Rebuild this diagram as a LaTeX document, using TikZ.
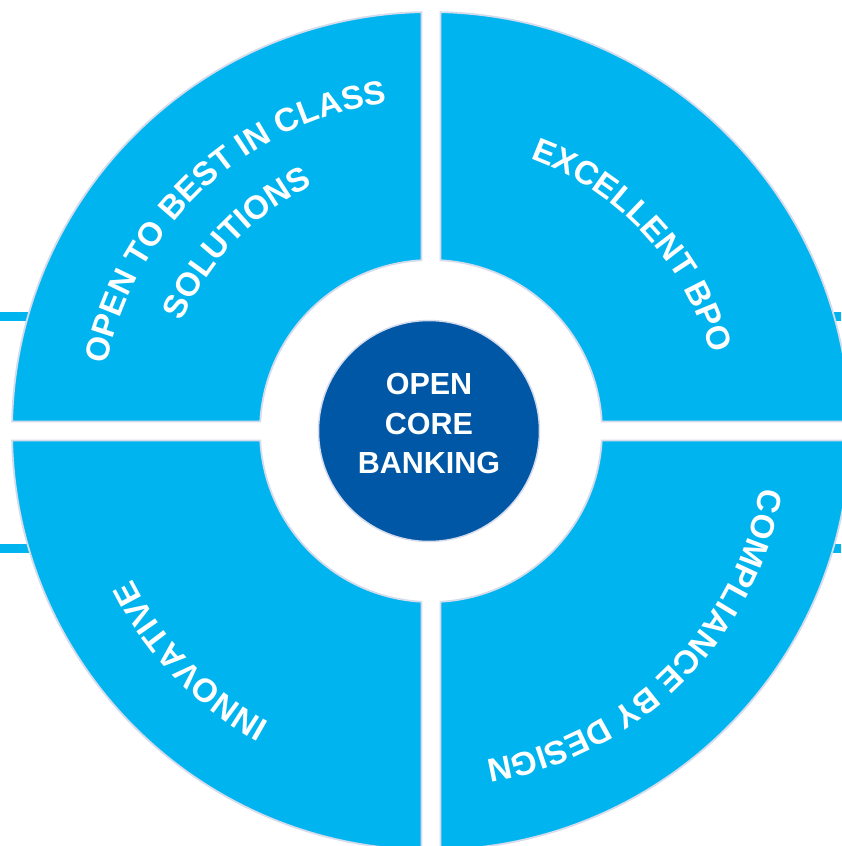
\documentclass[tikz,border=0pt]{standalone}
\usepackage{fontspec}
\setmainfont{Liberation Sans}
\usetikzlibrary{decorations.text}
\definecolor{quadcyan}{RGB}{0,181,239}
\definecolor{coreblue}{RGB}{0,87,165}
\definecolor{edgelilac}{RGB}{212,219,236}
\begin{document}
\begin{tikzpicture}[x=1pt,y=1pt,
  quad/.style={fill=quadcyan, draw=edgelilac, line width=1.8pt},
  sideline/.style={draw=quadcyan, line width=9pt},
  arclabel/.style={decorate, decoration={text along path, text align=center, text color=white,
     text={|\fontsize{33}{33}\selectfont\bfseries|#1}}},
  corelabel/.style={text=white, font=\fontsize{30.5}{30.5}\selectfont\bfseries, inner sep=0pt, anchor=base}
]
\useasboundingbox (-431,-415) rectangle (410,431);
% side lines (behind the disc)
\coordinate (lt) at (-431,114);  \coordinate (ltend) at (-390,114);
\coordinate (lb) at (-431,-117); \coordinate (lbend) at (-390,-117);
\coordinate (rt) at (410,114);   \coordinate (rtend) at (390,114);
\coordinate (rb) at (410,-117);  \coordinate (rbend) at (390,-117);
\draw[sideline] (lt) -- (ltend);
\draw[sideline] (lb) -- (lbend);
\draw[sideline] (rt) -- (rtend);
\draw[sideline] (rb) -- (rbend);
% quadrants
\path[quad] (88.701:419) arc[start angle=88.701, end angle=1.299, radius=419]
   -- (3.185:171) arc[start angle=3.185, end angle=86.815, radius=171] -- cycle;
\path[quad] (91.299:419) arc[start angle=91.299, end angle=178.701, radius=419]
   -- (176.815:171) arc[start angle=176.815, end angle=93.185, radius=171] -- cycle;
\path[quad] (181.299:419) arc[start angle=181.299, end angle=268.701, radius=419]
   -- (266.815:171) arc[start angle=266.815, end angle=183.185, radius=171] -- cycle;
\path[quad] (271.299:419) arc[start angle=271.299, end angle=358.701, radius=419]
   -- (356.815:171) arc[start angle=356.815, end angle=273.185, radius=171] -- cycle;
% core
\node[circle, fill=coreblue, draw=edgelilac, line width=1.5pt, minimum size=221pt, inner sep=0pt] (core) at (-2,0) {};
\node[corelabel] (core1) at (-2,37) {OPEN};
\node[corelabel] (core2) at (-2,-3) {CORE};
\node[corelabel] (core3) at (-2,-42) {BANKING};
% arc labels
\path[arclabel={OPEN TO BEST IN CLASS}] (193:331) arc[start angle=193, end angle=73, radius=331];
\path[arclabel={SOLUTIONS}] (185.9:272) arc[start angle=185.9, end angle=85.9, radius=272];
\path[arclabel={EXCELLENT BPO}] (92.65:290) arc[start angle=92.65, end angle=-7.35, radius=290];
\path[arclabel={INNOVATIVE}] (273.7:333) arc[start angle=273.7, end angle=173.7, radius=333];
\path[arclabel={COMPLIANCE BY DESIGN}] (374.8:334) arc[start angle=374.8, end angle=254.8, radius=334];
\end{tikzpicture}
\end{document}
